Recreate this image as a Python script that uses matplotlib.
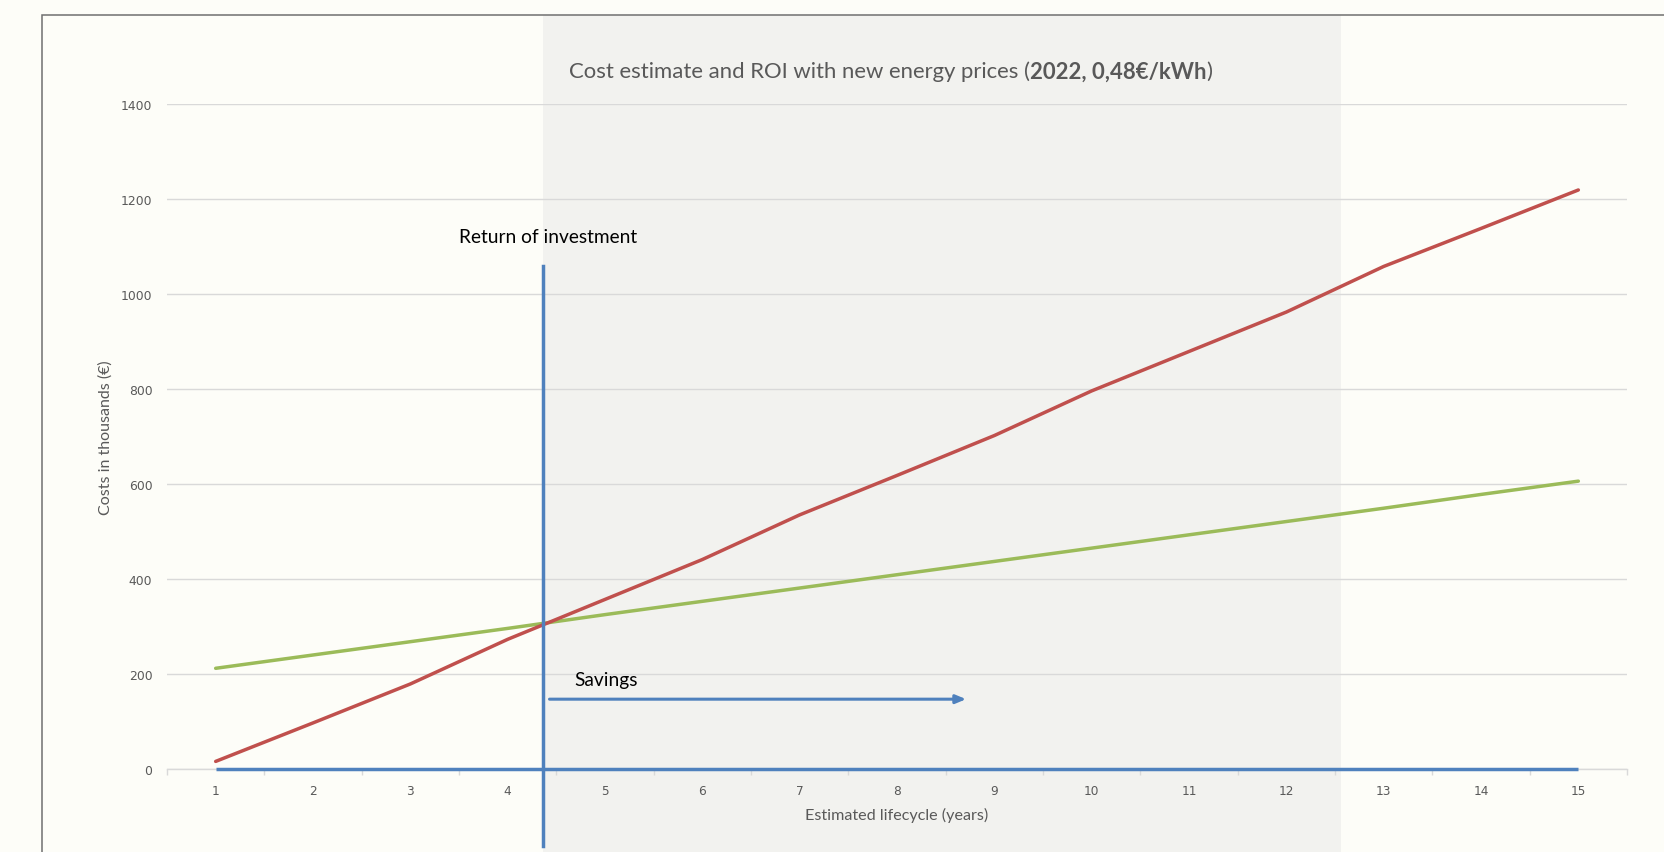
import matplotlib
matplotlib.use("Agg")
import matplotlib.pyplot as plt
from matplotlib.patches import Rectangle
from matplotlib.ticker import FixedLocator
import matplotlib.transforms as mtransforms

# yearly cumulative costs, in thousands of euro
years = list(range(1, 16))
cost_old = [16, 97, 179, 273, 357, 441, 535, 618, 702, 796, 879, 962, 1058, 1138, 1219]
cost_new = [212, 240, 268, 296, 325, 353, 381, 409, 437, 465, 493, 521, 549, 578, 606]
baseline = [0] * 15
y_ticks = [0, 200, 400, 600, 800, 1000, 1200, 1400]

roi_x = 4.36
roi_top = 1058
roi_bottom = -162
shade_end = 12.56
savings_from = 4.43
savings_to = 8.71
savings_y = 147

W, H = 1665, 853
bg = "#fdfdf8"
grey_txt = "#595959"
blue = "#4f81bd"
red = "#c0504d"
green = "#9bbb59"

fig = plt.figure(figsize=(W / 100, H / 100), dpi=100, facecolor=bg)
ax = fig.add_axes([167 / W, 1 - 770 / H, 1460 / W, 665 / H])
ax.set_facecolor("none")

ax.set_xlim(0.5, 15.5)
ax.set_ylim(0, 1400)

# grey band from the payback year to year 12.5, full height of the frame
tr = mtransforms.blended_transform_factory(ax.transData, fig.transFigure)
ax.add_patch(Rectangle((roi_x, 0), shade_end - roi_x, 1 - 15.7 / H, transform=tr,
                       facecolor="#f2f2ef", edgecolor="none", zorder=0, clip_on=False))

ax.set_yticks(y_ticks)
ax.yaxis.grid(True, color="#d9d9d9", lw=1)
ax.set_axisbelow(True)
for s in ["left", "right", "top"]:
    ax.spines[s].set_visible(False)
ax.spines["bottom"].set_color("#d9d9d9")
ax.spines["bottom"].set_linewidth(1)

ax.set_xticks(years)
ax.xaxis.set_minor_locator(FixedLocator([x + 0.5 for x in range(0, 16)]))
ax.tick_params(axis="x", which="major", length=0, pad=11, labelsize=8.7, labelcolor=grey_txt)
ax.tick_params(axis="x", which="minor", length=4, color="#d9d9d9", width=1)
ax.tick_params(axis="y", length=0, pad=10.5, labelsize=8.9, labelcolor=grey_txt)

ax.plot(years, baseline, color=blue, lw=2.5, solid_capstyle="butt", zorder=3, clip_on=False)
ax.plot(years, cost_new, color=green, lw=2.5, solid_capstyle="round", zorder=3)
ax.plot(years, cost_old, color=red, lw=2.5, solid_capstyle="round", zorder=4)

# payback marker and savings arrow
ax.plot([roi_x, roi_x], [roi_bottom, roi_top], color=blue, lw=2.5, clip_on=False, zorder=5)
ax.annotate("", xy=(savings_to, savings_y), xytext=(savings_from, savings_y),
            arrowprops=dict(arrowstyle="-|>,head_length=0.6,head_width=0.25",
                            color=blue, lw=2.2, shrinkA=0, shrinkB=0))
ax.text(4.41, 1122, "Return of investment", ha="center", va="center",
        fontsize=13.8, family="Lato", color="black")
ax.text(4.69, 189, "Savings", ha="left", va="center",
        fontsize=13.8, family="Lato", color="black")

ax.text(0.5, -0.0677, "Estimated lifecycle (years)", transform=ax.transAxes,
        ha="center", va="center", fontsize=11.6, family="Lato", color=grey_txt)
ax.text(-0.0418, 0.5, "Costs in thousands (€)", transform=ax.transAxes, rotation=90,
        ha="center", va="center", fontsize=11.5, family="Lato", color=grey_txt)

# title: plain part followed by a bold part
t1 = fig.text(569 / W, 1 - 72 / H, "Cost estimate and ROI with new energy prices (",
              ha="left", va="center", fontsize=15.9, family="Lato", color=grey_txt)
t2 = ax.annotate("2022, 0,48€/kWh", xy=(1, 0), xycoords=t1, ha="left", va="bottom",
                 fontsize=15.9, family="Lato", fontweight="bold", color=grey_txt,
                 annotation_clip=False)
ax.annotate(")", xy=(1, 0), xycoords=t2, ha="left", va="bottom",
            fontsize=15.9, family="Lato", color=grey_txt, annotation_clip=False)

# outer chart frame, open to the right and bottom
fig.add_artist(Rectangle((42 / W, -0.5), 2, 1.5 - 15.7 / H, transform=fig.transFigure,
                         fill=False, edgecolor="#707070", lw=1.1, zorder=10))

fig.savefig("out.png", dpi=100, facecolor=bg)
